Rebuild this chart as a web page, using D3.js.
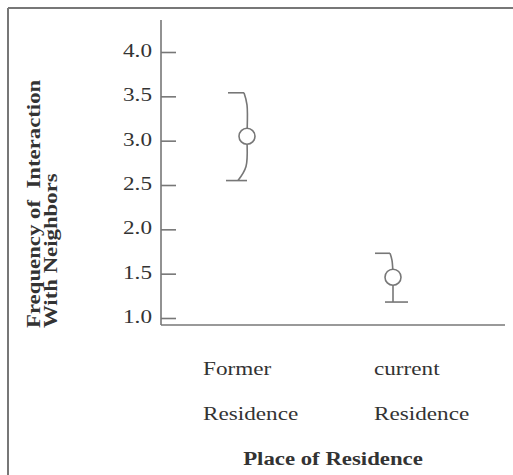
<!DOCTYPE html>
<html>
<head>
<meta charset="utf-8">
<script src="https://cdn.jsdelivr.net/npm/d3@7"></script>
<style>
  body { margin: 0; background: #fff; }
  text { font-family: "Liberation Serif", "Times New Roman", serif; fill: #333; }
</style>
</head>
<body>
<div id="chart"></div>
<script>
// Data
const categories = ['Former', 'current'];
const catLine2 = ['Residence', 'Residence'];
const means = [3.05, 1.46];
const upper = [3.54, 1.73];
const lower = [2.55, 1.18];
const yTicks = [1.0, 1.5, 2.0, 2.5, 3.0, 3.5, 4.0];

const W = 513, H = 475;
const stroke = '#777';
const sx = 1.22; // the source text is stretched horizontally

const svg = d3.select('#chart').append('svg')
  .attr('width', W)
  .attr('height', H);

// frame (only top and left edges show in the crop)
svg.append('line').attr('x1', 8).attr('x2', W).attr('y1', 8).attr('y2', 8)
  .attr('stroke', stroke).attr('stroke-width', 2);
svg.append('line').attr('x1', 8).attr('x2', 8).attr('y1', 8).attr('y2', H)
  .attr('stroke', stroke).attr('stroke-width', 2);

const y = d3.scaleLinear().domain([1, 4]).range([318, 52]);
const x = d3.scalePoint().domain(categories).range([247, 393]);

const axisX = 161;

// axes lines
svg.append('line').attr('x1', axisX).attr('x2', axisX).attr('y1', 20).attr('y2', 325)
  .attr('stroke', stroke).attr('stroke-width', 1.6);
svg.append('line').attr('x1', axisX).attr('x2', 505).attr('y1', 325).attr('y2', 325)
  .attr('stroke', stroke).attr('stroke-width', 1.6);

// ticks pointing inward
const yAxis = d3.axisRight(y).tickValues(yTicks).tickSize(15).tickFormat('');
const ga = svg.append('g').attr('transform', `translate(${axisX},0)`).call(yAxis);
ga.select('.domain').remove();
ga.selectAll('.tick line').attr('stroke', stroke).attr('stroke-width', 1.6);

// tick labels
svg.selectAll('.ylab')
  .data(yTicks)
  .enter().append('text')
  .attr('class', 'ylab')
  .attr('transform', d => `translate(152,${y(d) - 1}) scale(${sx},1)`)
  .attr('dy', '0.32em')
  .attr('text-anchor', 'end')
  .style('font-size', '19px')
  .text(d => d.toFixed(1));

// y title (two lines, rotated)
const ytitle = ['Frequency of  Interaction', 'With Neighbors'];
svg.selectAll('.ytitle')
  .data(ytitle)
  .enter().append('text')
  .attr('class', 'ytitle')
  .attr('transform', (d, i) => `translate(${40 + i * 17},328) rotate(-90) scale(1.2,1)`)
  .attr('text-anchor', 'start')
  .style('font-size', '19px')
  .style('font-weight', 'bold')
  .style('white-space', 'pre')
  .text(d => d);

// error bars, drawn as the slightly curved brackets of the original
const curve = d3.line().curve(d3.curveCatmullRom);
const g = svg.append('g');

categories.forEach((c, i) => {
  const cx = x(c);
  const top = y(upper[i]), bot = y(lower[i]), mid = y(means[i]);
  let path, capTop, capBot;
  if (i === 0) {
    path = [[cx - 3, top], [cx, top + 12], [cx, mid], [cx - 1, bot - 14], [cx - 9, bot]];
    capTop = [cx - 19, cx - 3];
    capBot = [cx - 21, cx];
  } else {
    path = [[cx - 3, top], [cx - 1, top + 7], [cx, mid]];
    g.append('line').attr('x1', cx).attr('x2', cx).attr('y1', mid).attr('y2', bot)
      .attr('stroke', stroke).attr('stroke-width', 1.6);
    capTop = [cx - 18, cx - 3];
    capBot = [cx - 8, cx + 15];
  }
  g.append('path').attr('d', curve(path))
    .attr('fill', 'none').attr('stroke', stroke).attr('stroke-width', 1.6);
  g.append('line').attr('x1', capTop[0]).attr('x2', capTop[1]).attr('y1', top).attr('y2', top)
    .attr('stroke', stroke).attr('stroke-width', 1.6);
  g.append('line').attr('x1', capBot[0]).attr('x2', capBot[1]).attr('y1', bot).attr('y2', bot)
    .attr('stroke', stroke).attr('stroke-width', 1.6);
});

g.selectAll('circle')
  .data(means)
  .enter().append('circle')
  .attr('cx', (d, i) => x(categories[i]))
  .attr('cy', d => y(d))
  .attr('r', 8)
  .attr('fill', '#fff')
  .attr('stroke', stroke)
  .attr('stroke-width', 1.6);

// category labels, left aligned as in the source
const labelShift = [-44, -19];
categories.forEach((c, i) => {
  const lx = x(c) + labelShift[i];
  svg.append('text')
    .attr('transform', `translate(${lx},375) scale(${sx},1)`)
    .style('font-size', '19px')
    .text(c);
  svg.append('text')
    .attr('transform', `translate(${lx},420) scale(${sx},1)`)
    .style('font-size', '19px')
    .text(catLine2[i]);
});

// x title
svg.append('text')
  .attr('transform', `translate(333,465) scale(1.2,1)`)
  .attr('text-anchor', 'middle')
  .style('font-size', '19px')
  .style('font-weight', 'bold')
  .text('Place of Residence');
</script>
</body>
</html>
